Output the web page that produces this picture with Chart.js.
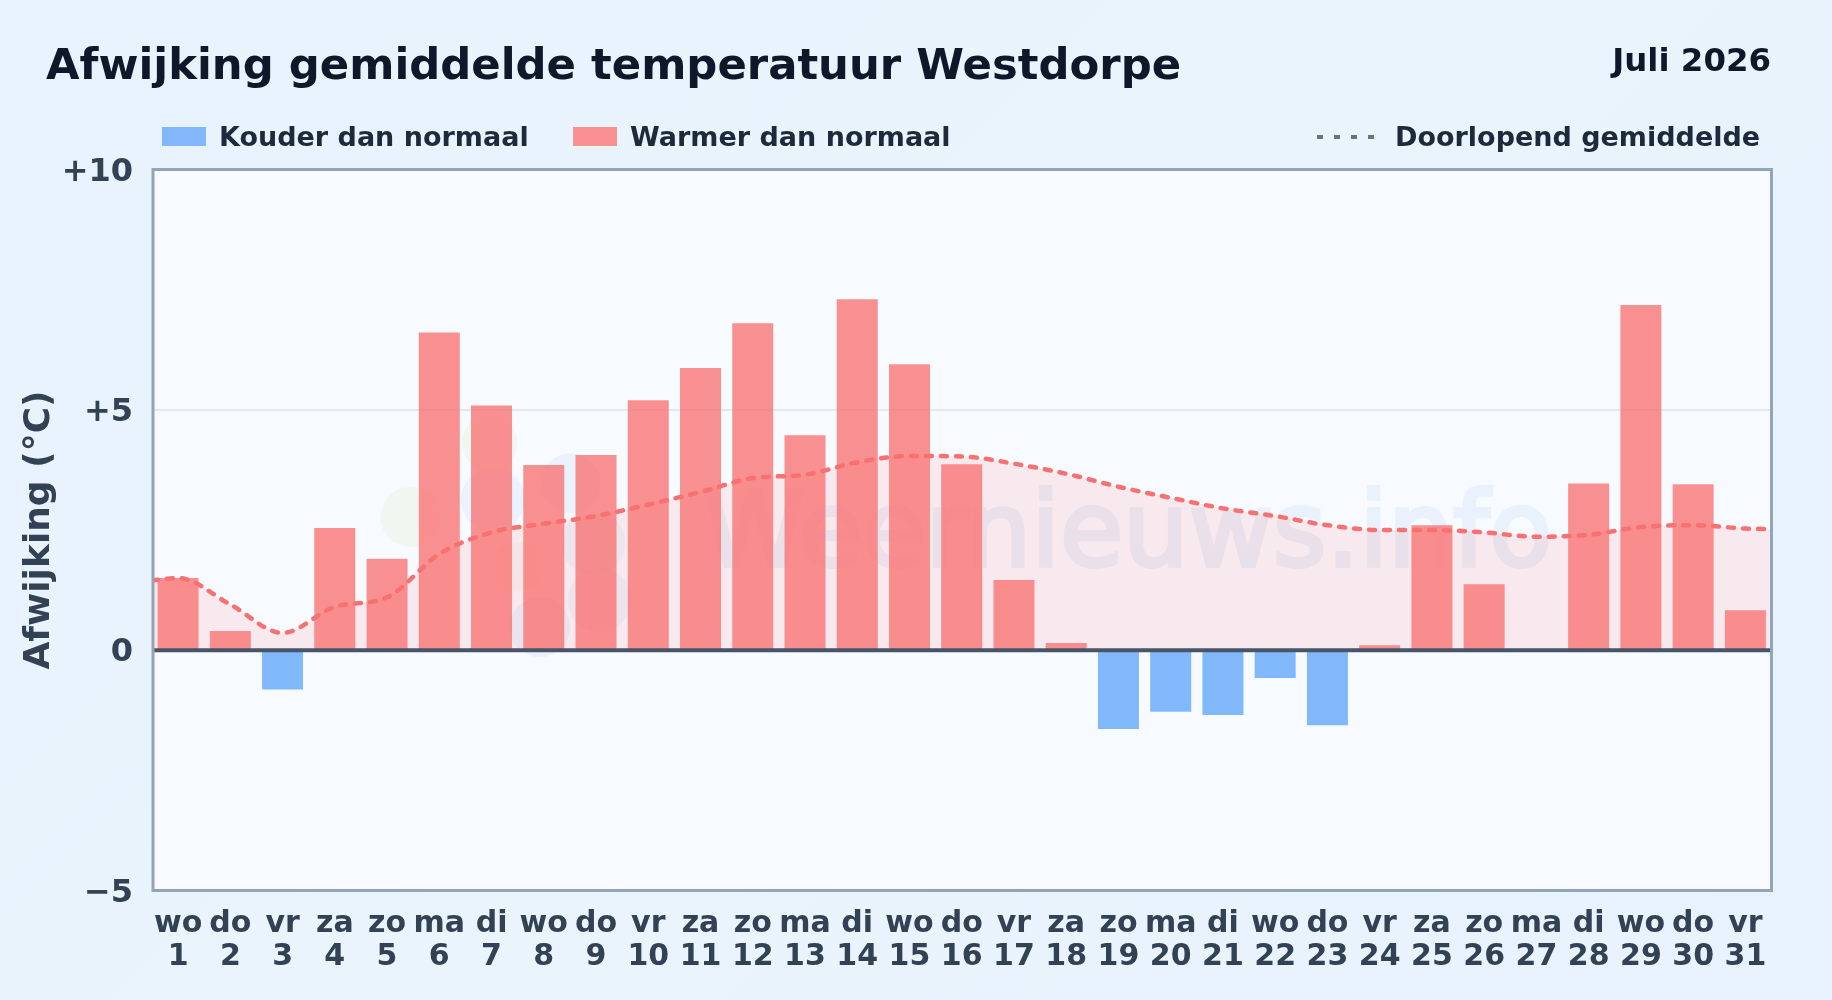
<!DOCTYPE html>
<html lang="nl">
<head>
<meta charset="utf-8">
<title>Afwijking gemiddelde temperatuur Westdorpe</title>
<script src="https://cdn.jsdelivr.net/npm/chart.js@4"></script>
<style>
  html, body { margin: 0; padding: 0; }
  body {
    width: 1832px; height: 1000px; overflow: hidden; position: relative;
    background: linear-gradient(135deg, #e7f2fc 0%, #eaf4fd 50%, #e7f2fc 100%);
    font-family: "DejaVu Sans", sans-serif; font-weight: bold;
  }
  canvas { position: absolute; left: 0; top: 0; }
  .tekst { position: absolute; white-space: nowrap; line-height: 1; }
  #vlak { position: absolute; left: 153px; top: 169.5px; width: 1618px; height: 721px; background: #f7fbff; }
  #merk { left: 703px; top: 479px; font-size: 103px; font-weight: normal; color: #4678dc; opacity: 0.07; -webkit-text-stroke: 4px #4678dc; }
  #titel { left: 46px; top: 43px; font-size: 43.35px; color: #0f172a; }
  #maand { right: 61px; top: 44px; font-size: 32.4px; color: #0f172a; }
  .legenda { top: 123px; font-size: 27px; color: #1e293b; }
  .blok { position: absolute; top: 127px; width: 44px; height: 19px; }
  #streep { position: absolute; left: 1317px; top: 135px; width: 58px; height: 4px;
    background: repeating-linear-gradient(90deg, #64748b 0 6px, transparent 6px 17px); }
</style>
</head>
<body>
<div id="vlak"></div>
<div class="tekst" id="merk">Weernieuws.info</div>
<canvas id="grafiek" width="1832" height="1000"></canvas>
<div class="tekst" id="titel">Afwijking gemiddelde temperatuur Westdorpe</div>
<div class="tekst" id="maand">Juli 2026</div>
<div class="blok" style="left:162px;background:#82b8fb"></div>
<div class="tekst legenda" style="left:219px">Kouder dan normaal</div>
<div class="blok" style="left:573px;background:#f99191"></div>
<div class="tekst legenda" style="left:630px">Warmer dan normaal</div>
<div id="streep"></div>
<div class="tekst legenda" style="left:1395px">Doorlopend gemiddelde</div>

<script>
  const dagen = [1,2,3,4,5,6,7,8,9,10,11,12,13,14,15,16,17,18,19,20,21,22,23,24,25,26,27,28,29,30,31];
  const weekdagen = ["wo","do","vr","za","zo","ma","di","wo","do","vr","za","zo","ma","di","wo","do","vr","za","zo","ma","di","wo","do","vr","za","zo","ma","di","wo","do","vr"];

  // Afwijking per dag (°C)
  const afwijking = [1.5,0.4,-0.82,2.54,1.9,6.61,5.09,3.85,4.06,5.2,5.87,6.8,4.47,7.3,5.95,3.87,1.46,0.15,-1.64,-1.28,-1.35,-0.58,-1.56,0.1,2.6,1.37,0,3.47,7.18,3.45,0.83];

  // Doorlopend gemiddelde, met een waarde op de linker- en rechterrand van het vlak
  const doorlopend = [1.5,0.95,0.36,0.9,1.1,2.0,2.45,2.63,2.79,3.03,3.29,3.58,3.65,3.91,4.04,4.03,3.88,3.67,3.4,3.17,2.95,2.79,2.6,2.5,2.5,2.45,2.36,2.4,2.56,2.6,2.53];
  const randLinks = 1.45;
  const randRechts = 2.52;

  const yTicks = [-5, 0, 5, 10];

  const warm = dagen.map((d, i) => ({ x: d, y: afwijking[i] > 0 ? afwijking[i] : null }));
  const koud = dagen.map((d, i) => ({ x: d, y: afwijking[i] < 0 ? afwijking[i] : null }));
  const lijn = [{ x: 0.5, y: randLinks }]
    .concat(dagen.map((d, i) => ({ x: d, y: doorlopend[i] })))
    .concat([{ x: 31.5, y: randRechts }]);

  // Kader om het plotvlak, y-labels iets omlaag
  const kader = {
    id: "kader",
    beforeDraw(chart) {
      chart.scales.y.getLabelItems().forEach((item) => { item.options.translation[1] += 3; });
    },
    afterDraw(chart) {
      const { ctx, chartArea: a } = chart;
      ctx.save();
      ctx.strokeStyle = "#94a3b8";
      ctx.lineWidth = 3;
      ctx.strokeRect(a.left, a.top, a.width, a.height);
      ctx.restore();
    },
  };

  // Logo van het watermerk
  const watermerk = {
    id: "watermerk",
    beforeDatasetsDraw(chart) {
      const { ctx, chartArea: a } = chart;
      const blobs = [
        [0.159, 0.482, 30, "rgba(190,220,120,0.1)"],
        [0.208, 0.379, 28, "rgba(190,220,120,0.1)"],
        [0.210, 0.458, 32, "rgba(90,150,235,0.08)"],
        [0.258, 0.435, 30, "rgba(90,150,235,0.08)"],
        [0.225, 0.551, 25, "rgba(245,190,110,0.07)"],
        [0.272, 0.518, 32, "rgba(90,150,235,0.06)"],
        [0.276, 0.597, 32, "rgba(90,130,230,0.06)"],
        [0.239, 0.635, 30, "rgba(90,150,235,0.08)"],
      ];
      ctx.save();
      blobs.forEach(([x, y, r, kleur]) => {
        ctx.fillStyle = kleur;
        ctx.beginPath();
        ctx.arc(a.left + x * a.width, a.top + y * a.height, r, 0, Math.PI * 2);
        ctx.fill();
      });
      ctx.restore();
    },
  };

  new Chart(document.getElementById("grafiek"), {
    type: "bar",
    data: {
      datasets: [
        {
          type: "line",
          data: lijn,
          borderColor: "#f87171",
          borderWidth: 4.5,
          borderDash: [6, 9],
          borderCapStyle: "round",
          backgroundColor: "rgba(248,113,113,0.13)",
          fill: "origin",
          cubicInterpolationMode: "monotone",
          pointRadius: 0,
          order: 0,
        },
        {
          type: "line",
          data: [{ x: 0.5, y: 0 }, { x: 31.5, y: 0 }],
          borderColor: "#475569",
          borderWidth: 4,
          pointRadius: 0,
          fill: false,
          order: 1,
        },
        { label: "Warmer dan normaal", data: warm, backgroundColor: "rgba(248,113,113,0.78)", grouped: false, barPercentage: 0.785, categoryPercentage: 1, order: 2 },
        { label: "Kouder dan normaal", data: koud, backgroundColor: "rgba(96,165,250,0.78)", grouped: false, barPercentage: 0.785, categoryPercentage: 1, order: 2 },
      ],
    },
    options: {
      responsive: false,
      animation: false,
      layout: { padding: { top: 169.5, right: 60.5, left: 0, bottom: 0 } },
      plugins: {
        legend: { display: false },
        tooltip: { enabled: false },
        filler: { drawTime: "beforeDatasetsDraw" },
      },
      scales: {
        x: {
          type: "linear",
          min: 0.52,
          max: 31.5,
          offset: false,
          grid: { display: false },
          border: { display: false },
          afterBuildTicks: (s) => { s.ticks = dagen.map((d) => ({ value: d })); },
          afterFit: (s) => { s.height = 109.5; },
          ticks: {
            autoSkip: false,
            maxRotation: 0,
            padding: 9,
            color: "#334155",
            font: { family: "'DejaVu Sans'", size: 30, weight: "bold", lineHeight: 1.1 },
            callback: (v) => [weekdagen[v - 1], String(v)],
          },
        },
        y: {
          min: -5,
          max: 10,
          afterBuildTicks: (s) => { s.ticks = yTicks.map((v) => ({ value: v })); },
          afterFit: (s) => { s.width = 153; },
          grid: { color: "#e2e8f0", lineWidth: 2, drawTicks: false },
          border: { display: false },
          ticks: {
            padding: 20,
            color: "#334155",
            font: { family: "'DejaVu Sans'", size: 32, weight: "bold" },
            callback: (v) => (v > 0 ? "+" + v : v < 0 ? "\u2212" + Math.abs(v) : "0"),
          },
          title: {
            display: true,
            text: "Afwijking (°C)",
            color: "#334155",
            font: { family: "'DejaVu Sans'", size: 36, weight: "bold" },
            padding: { top: 18.5, bottom: 0 },
          },
        },
      },
    },
    plugins: [kader, watermerk],
  });
</script>
</body>
</html>
